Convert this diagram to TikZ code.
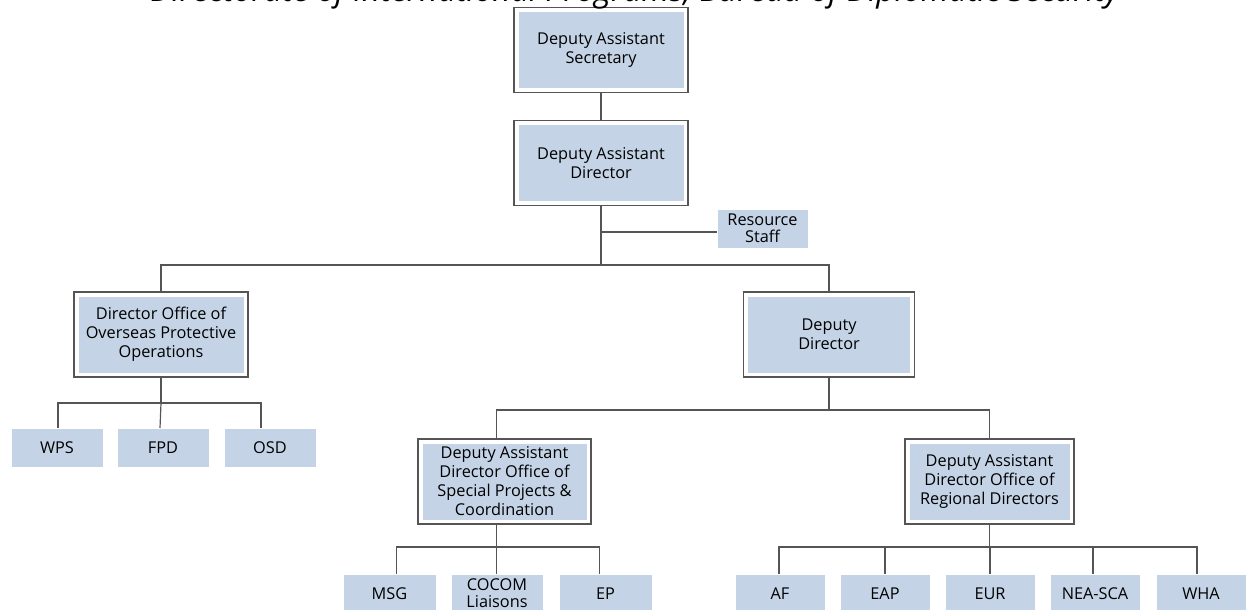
\documentclass[tikz,border=0pt]{standalone}
\usepackage{fontspec}
\setmainfont{Open Sans}
\definecolor{boxfill}{RGB}{196,212,230}
\definecolor{linegray}{RGB}{85,85,85}
\begin{document}
\begin{tikzpicture}[x=1pt,y=-1pt,
  framed/.style={draw=linegray, line width=1.2pt, fill=white, outer sep=0pt,
    minimum width=174pt, minimum height=85pt, align=center, font=\fontsize{16.3}{19}\selectfont,
    path picture={\fill[boxfill] ([shift={(4.5pt,-4.5pt)}]path picture bounding box.north west) rectangle ([shift={(-4.5pt,4.5pt)}]path picture bounding box.south east);}},
  leaf/.style={fill=boxfill, draw=white, line width=0.8pt, outer sep=0pt, minimum width=92pt, minimum height=39pt, align=center,
    font=\fontsize{16.3}{17}\selectfont},
  conn/.style={draw=linegray, line width=1.2pt}]
\useasboundingbox (0,0) rectangle (1256,610);
\node[framed] (das) at (601,50) {Deputy Assistant\\Secretary};
\node[framed] (dad) at (601,163) {Deputy Assistant\\Director};
\node[leaf, minimum width=91pt] (res) at (762.5,228.5) {Resource\\Staff};
\node[framed] (oopo) at (161,334.5) {Director Office of\\Overseas Protective\\Operations};
\node[framed, minimum width=171pt] (dd) at (829,334.5) {Deputy\\Director};
\node[framed, minimum width=173pt] (spc) at (504.5,481.5) {Deputy Assistant\\Director Office of\\Special Projects \&\\Coordination};
\node[framed, minimum width=169pt] (ord) at (989.5,481.5) {Deputy Assistant\\Director Office of\\Regional Directors};
\node[leaf] (wps) at (57,447.5) {WPS};
\node[leaf] (fpd) at (163,447.5) {FPD};
\node[leaf] (osd) at (270,447.5) {OSD};
\node[leaf, minimum width=93pt] (msg) at (389.5,593.5) {MSG};
\node[leaf] (cocom) at (497,593.5) {COCOM\\Liaisons};
\node[leaf, minimum width=93pt] (ep) at (605.5,593.5) {EP};
\node[leaf, minimum width=90pt] (af) at (780,593.5) {AF};
\node[leaf, minimum width=90pt] (eap) at (885,593.5) {EAP};
\node[leaf, minimum width=90pt] (eur) at (990,593.5) {EUR};
\node[leaf, minimum width=90pt] (nea) at (1095,593.5) {NEA-SCA};
\node[leaf, minimum width=90pt] (wha) at (1201,593.5) {WHA};
% connectors
\draw[conn] (das.south) -- (dad.north);
\coordinate (rj) at (601,232);
\draw[conn] (dad.south) -- (rj) -- (rj -| res.west);
\coordinate (bus1) at (601,265);
\draw[conn] (rj) -- (bus1);
\draw[conn] (oopo.north) |- (bus1) -| (dd.north);
% left group
\coordinate (b2) at (161,403);
\draw[conn] (oopo.south) -- (b2);
\draw[conn] ([xshift=1pt]wps.north) |- (b2) -| ([xshift=-9pt]osd.north);
\draw[conn] (b2) -- ([xshift=-3pt]fpd.north);
% deputy director
\coordinate (b3) at (829,410);
\draw[conn] (dd.south) -- (b3);
\draw[conn] ([xshift=-8pt]spc.north) |- (b3) -| (ord.north);
% spc children
\coordinate (b4) at (496.5,547);
\draw[conn] ([xshift=-8pt]spc.south) -- (b4);
\draw[conn] ([xshift=7pt]msg.north) |- (b4) -| ([xshift=-6pt]ep.north);
\draw[conn] (b4) -- ([xshift=-0.5pt]cocom.north);
% ord children
\coordinate (b5) at (989.5,547);
\draw[conn] (ord.south) -- (b5);
\draw[conn] ([xshift=-1pt]af.north) |- (b5) -| ([xshift=-4pt]wha.north);
\draw[conn] (eap.north) -- (eap.north |- b5);
\draw[conn] (eur.north) -- (eur.north |- b5);
\draw[conn] ([xshift=-2pt]nea.north) -- ([xshift=-2pt]nea.north |- b5);
% title (mostly cut off at the top)
\node[anchor=base, inner sep=0pt, font=\fontsize{32}{32}\selectfont\itshape] (title) at (635,2) {Directorate of International Programs, Bureau of Diplomatic Security};
\end{tikzpicture}
\end{document}
